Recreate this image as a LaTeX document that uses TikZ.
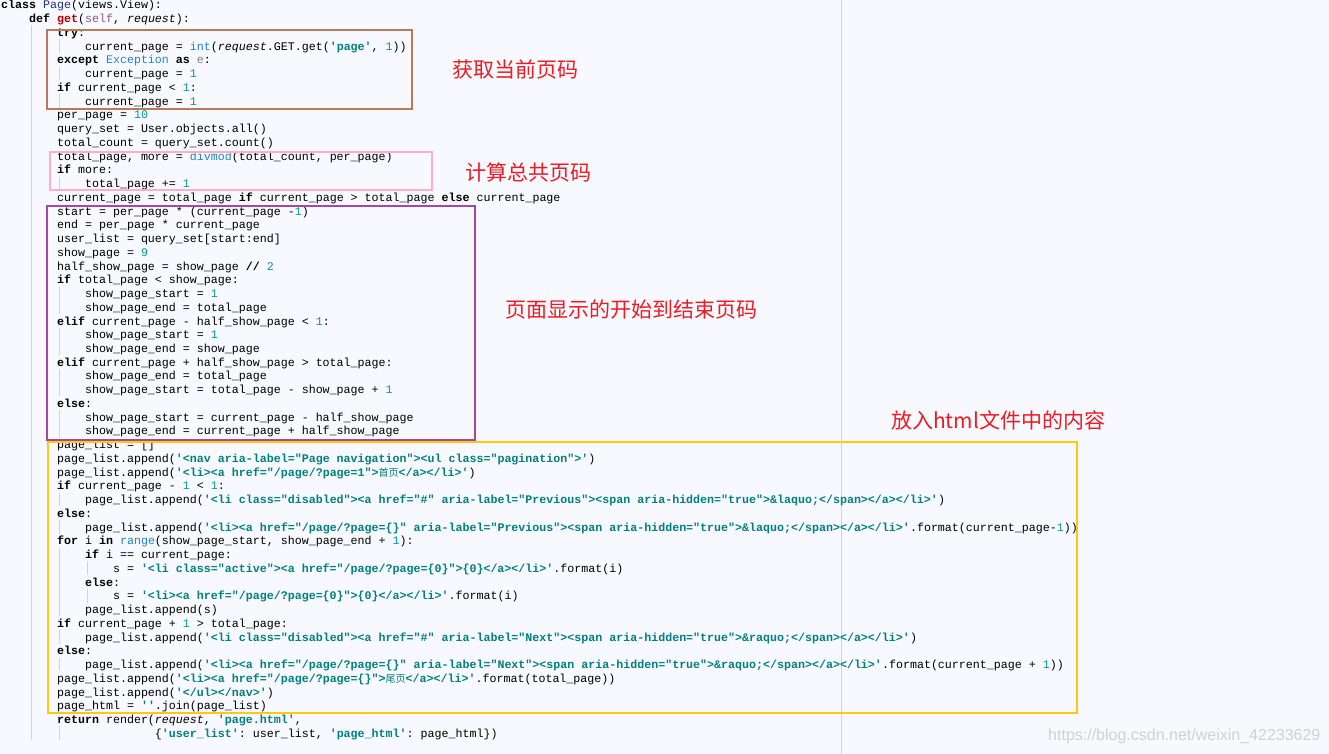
\documentclass[tikz,border=0pt]{standalone}
\usepackage{xcolor}
\usepackage{fontspec}
\setmainfont{Liberation Sans}
\setmonofont{Liberation Mono}
\newfontfamily\cjk{Noto Sans CJK SC}
\usepackage{tikz}

\definecolor{bgpaper}{RGB}{248,249,254}
\definecolor{strteal}{RGB}{0,128,128}
\definecolor{numteal}{RGB}{0,153,153}
\definecolor{builtblue}{RGB}{32,132,196}
\definecolor{clsname}{RGB}{32,48,140}
\definecolor{fnred}{RGB}{178,0,0}
\definecolor{selfpurple}{RGB}{148,85,141}
\definecolor{guidegray}{RGB}{212,212,216}
\definecolor{boxbrown}{RGB}{185,122,87}
\definecolor{boxpink}{RGB}{255,174,201}
\definecolor{boxpurple}{RGB}{163,73,164}
\definecolor{boxyellow}{RGB}{255,201,14}
\definecolor{notered}{RGB}{237,28,36}

\newcommand{\codefont}{\ttfamily\fontsize{11.65}{13.74}\selectfont}
\newcommand{\codekw}[1]{\textbf{#1}}
\newcommand{\codestr}[1]{\textcolor{strteal}{\textbf{#1}}}
\newcommand{\codenum}[1]{\textcolor{numteal}{#1}}
\newcommand{\codebi}[1]{\textcolor{builtblue}{#1}}
\newcommand{\codecjk}[1]{{\cjk\mdseries\fontsize{10}{10}\selectfont #1}}

\begin{document}
\begin{tikzpicture}[
        x=1pt, y=-1pt,
        codeline/.style={anchor=base west, inner sep=0pt, font=\codefont},
        guide/.style={draw=guidegray, line width=1pt},
        notebox/.style={line width=2pt},
        note/.style={anchor=west, inner sep=0pt, text=notered, font=\cjk\fontsize{21}{21}\selectfont}
    ]
        % Background
        \fill[bgpaper] (0,0) rectangle (1329,754);
        \useasboundingbox (0,0) rectangle (1329,754);
        \draw[guidegray, line width=1pt] (841,0) -- (841,754);

        \begin{scope}[shift={(1,9)}, x=6.99pt, y=-13.74pt]
        % Indent guides
        \draw[guide] (4.4,1.2) -- (4.4,53.2);
        \draw[guide] (8.4,2.2) -- (8.4,3.2);
        \draw[guide] (8.4,4.2) -- (8.4,5.2);
        \draw[guide] (8.4,6.2) -- (8.4,7.2);
        \draw[guide] (8.4,12.2) -- (8.4,13.2);
        \draw[guide] (8.4,20.2) -- (8.4,22.2);
        \draw[guide] (8.4,23.2) -- (8.4,25.2);
        \draw[guide] (8.4,26.2) -- (8.4,28.2);
        \draw[guide] (8.4,29.2) -- (8.4,31.2);
        \draw[guide] (8.4,35.2) -- (8.4,36.2);
        \draw[guide] (8.4,37.2) -- (8.4,38.2);
        \draw[guide] (8.4,39.2) -- (8.4,44.2);
        \draw[guide] (12.4,40.2) -- (12.4,41.2);
        \draw[guide] (12.4,42.2) -- (12.4,43.2);
        \draw[guide] (8.4,45.2) -- (8.4,46.2);
        \draw[guide] (8.4,47.2) -- (8.4,48.2);
        \draw[guide] (8.4,52.2) -- (8.4,53.2);

        % Code
        \node[codeline] (l1) at (0,0) {\codekw{class} \textcolor{clsname}{Page}(views.View):};
        \node[codeline] (l2) at (4,1) {\codekw{def} \textcolor{fnred}{\textbf{get}}(\textcolor{selfpurple}{self}, \textit{request}):};
        \node[codeline] (l3) at (8,2) {\codekw{try}:};
        \node[codeline] (l4) at (12,3) {current\_page = \codebi{int}(\textit{request}.GET.get(\codestr{'page'}, \codenum{1}))};
        \node[codeline] (l5) at (8,4) {\codekw{except} \codebi{Exception} \codekw{as} \textcolor{gray}{e}:};
        \node[codeline] (l6) at (12,5) {current\_page = \codenum{1}};
        \node[codeline] (l7) at (8,6) {\codekw{if} current\_page < \codenum{1}:};
        \node[codeline] (l8) at (12,7) {current\_page = \codenum{1}};
        \node[codeline] (l9) at (8,8) {per\_page = \codenum{10}};
        \node[codeline] (l10) at (8,9) {query\_set = User.objects.all()};
        \node[codeline] (l11) at (8,10) {total\_count = query\_set.count()};
        \node[codeline] (l12) at (8,11) {total\_page, more = \codebi{divmod}(total\_count, per\_page)};
        \node[codeline] (l13) at (8,12) {\codekw{if} more:};
        \node[codeline] (l14) at (12,13) {total\_page += \codenum{1}};
        \node[codeline] (l15) at (8,14) {current\_page = total\_page \codekw{if} current\_page > total\_page \codekw{else} current\_page};
        \node[codeline] (l16) at (8,15) {start = per\_page * (current\_page -\codenum{1})};
        \node[codeline] (l17) at (8,16) {end = per\_page * current\_page};
        \node[codeline] (l18) at (8,17) {user\_list = query\_set[start:end]};
        \node[codeline] (l19) at (8,18) {show\_page = \codenum{9}};
        \node[codeline] (l20) at (8,19) {half\_show\_page = show\_page \textbf{//} \codenum{2}};
        \node[codeline] (l21) at (8,20) {\codekw{if} total\_page < show\_page:};
        \node[codeline] (l22) at (12,21) {show\_page\_start = \codenum{1}};
        \node[codeline] (l23) at (12,22) {show\_page\_end = total\_page};
        \node[codeline] (l24) at (8,23) {\codekw{elif} current\_page - half\_show\_page < \codenum{1}:};
        \node[codeline] (l25) at (12,24) {show\_page\_start = \codenum{1}};
        \node[codeline] (l26) at (12,25) {show\_page\_end = show\_page};
        \node[codeline] (l27) at (8,26) {\codekw{elif} current\_page + half\_show\_page > total\_page:};
        \node[codeline] (l28) at (12,27) {show\_page\_end = total\_page};
        \node[codeline] (l29) at (12,28) {show\_page\_start = total\_page - show\_page + \codenum{1}};
        \node[codeline] (l30) at (8,29) {\codekw{else}:};
        \node[codeline] (l31) at (12,30) {show\_page\_start = current\_page - half\_show\_page};
        \node[codeline] (l32) at (12,31) {show\_page\_end = current\_page + half\_show\_page};
        \node[codeline] (l33) at (8,32) {page\_list = []};
        \node[codeline] (l34) at (8,33) {page\_list.append(\codestr{'<nav aria-label="Page navigation"><ul class="pagination">'})};
        \node[codeline] (l35) at (8,34) {page\_list.append(\codestr{'<li><a href="/page/?page=1">\codecjk{首页}</a></li>'})};
        \node[codeline] (l36) at (8,35) {\codekw{if} current\_page - \codenum{1} < \codenum{1}:};
        \node[codeline] (l37) at (12,36) {page\_list.append(\codestr{'<li class="disabled"><a href="\#" aria-label="Previous"><span aria-hidden="true">\&laquo;</span></a></li>'})};
        \node[codeline] (l38) at (8,37) {\codekw{else}:};
        \node[codeline] (l39) at (12,38) {page\_list.append(\codestr{'<li><a href="/page/?page=\{\}" aria-label="Previous"><span aria-hidden="true">\&laquo;</span></a></li>'}.format(current\_page-\codenum{1}))};
        \node[codeline] (l40) at (8,39) {\codekw{for} i \codekw{in} \codebi{range}(show\_page\_start, show\_page\_end + \codenum{1}):};
        \node[codeline] (l41) at (12,40) {\codekw{if} i == current\_page:};
        \node[codeline] (l42) at (16,41) {s = \codestr{'<li class="active"><a href="/page/?page=\{0\}">\{0\}</a></li>'}.format(i)};
        \node[codeline] (l43) at (12,42) {\codekw{else}:};
        \node[codeline] (l44) at (16,43) {s = \codestr{'<li><a href="/page/?page=\{0\}">\{0\}</a></li>'}.format(i)};
        \node[codeline] (l45) at (12,44) {page\_list.append(s)};
        \node[codeline] (l46) at (8,45) {\codekw{if} current\_page + \codenum{1} > total\_page:};
        \node[codeline] (l47) at (12,46) {page\_list.append(\codestr{'<li class="disabled"><a href="\#" aria-label="Next"><span aria-hidden="true">\&raquo;</span></a></li>'})};
        \node[codeline] (l48) at (8,47) {\codekw{else}:};
        \node[codeline] (l49) at (12,48) {page\_list.append(\codestr{'<li><a href="/page/?page=\{\}" aria-label="Next"><span aria-hidden="true">\&raquo;</span></a></li>'}.format(current\_page + \codenum{1}))};
        \node[codeline] (l50) at (8,49) {page\_list.append(\codestr{'<li><a href="/page/?page=\{\}">\codecjk{尾页}</a></li>'}.format(total\_page))};
        \node[codeline] (l51) at (8,50) {page\_list.append(\codestr{'</ul></nav>'})};
        \node[codeline] (l52) at (8,51) {page\_html = \codestr{''}.join(page\_list)};
        \node[codeline] (l53) at (8,52) {\codekw{return} render(\textit{request}, \codestr{'page.html'},};
        \node[codeline] (l54) at (22,53) {\{\codestr{'user\_list'}: user\_list, \codestr{'page\_html'}: page\_html\})};
        \end{scope}

        % Boxes
        \draw[notebox, boxbrown] (47,30) rectangle (412,109);
        \draw[notebox, boxpink] (50,152) rectangle (432,190);
        \draw[notebox, boxpurple] (47,206) rectangle (475,440);
        \draw[notebox, boxyellow] (48,442) rectangle (1077,713);

        % Notes
        \node[note] (getpage) at (452,70) {获取当前页码};
        \node[note] (totalpage) at (465,172) {计算总共页码};
        \node[note] (showrange) at (505,310) {页面显示的开始到结束页码};
        \node[note] (htmlpart) at (891,420) {放入html文件中的内容};

        \node[anchor=west, inner sep=0pt, text=black!18, font=\fontsize{16}{16}\selectfont] (mark) at (1048,736) {https://blog.csdn.net/weixin\_42233629};

    \end{tikzpicture}
\end{document}
